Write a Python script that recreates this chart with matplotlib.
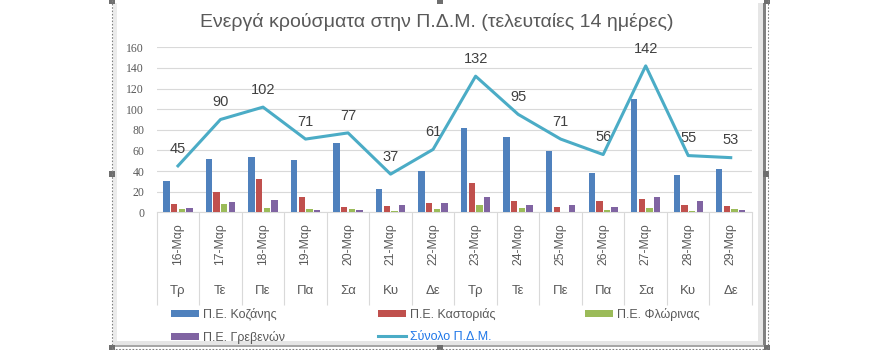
import matplotlib
matplotlib.use("Agg")
import matplotlib.pyplot as plt
from matplotlib.patches import Rectangle
from matplotlib.lines import Line2D
import matplotlib.transforms as mtransforms
import numpy as np

## chart data
dates = ["16-Μαρ", "17-Μαρ", "18-Μαρ", "19-Μαρ", "20-Μαρ", "21-Μαρ", "22-Μαρ",
         "23-Μαρ", "24-Μαρ", "25-Μαρ", "26-Μαρ", "27-Μαρ", "28-Μαρ", "29-Μαρ"]
days = ["Τρ", "Τε", "Πε", "Πα", "Σα", "Κυ", "Δε",
        "Τρ", "Τε", "Πε", "Πα", "Σα", "Κυ", "Δε"]
kozani = [30, 52, 54, 51, 67, 23, 40, 82, 73, 59, 38, 110, 36, 42]
kastoria = [8, 20, 32, 15, 5, 6, 9, 28, 11, 5, 11, 13, 7, 6]
florina = [3, 8, 4, 3, 3, 1, 3, 7, 4, 0, 2, 4, 1, 3]
grevena = [4, 10, 12, 2, 2, 7, 9, 15, 7, 7, 5, 15, 11, 2]
total = [45, 90, 102, 71, 77, 37, 61, 132, 95, 71, 56, 142, 55, 53]

series_names = ["Π.Ε. Κοζάνης", "Π.Ε. Καστοριάς", "Π.Ε. Φλώρινας", "Π.Ε. Γρεβενών"]
total_name = "Σύνολο Π.Δ.Μ."
title = "Ενεργά κρούσματα στην Π.Δ.Μ. (τελευταίες 14 ημέρες)"

W, H = 880, 350
TXT = "#595959"
GRID = "#d9d9d9"

def fx(x):
    return x / W

def fy(y):
    return 1 - y / H

fig = plt.figure(figsize=(8.8, 3.5), dpi=100)
ax = fig.add_axes([fx(156.7), fy(212.3), fx(752) - fx(156.7), fy(47.3) - fy(212.3)])

x = np.arange(len(dates))
colors = ["#4F81BD", "#C0504D", "#9BBB59", "#8064A2"]
offsets = [-0.27, -0.09, 0.09, 0.27]
bars = []
for vals, off, c, name in zip([kozani, kastoria, florina, grevena], offsets, colors, series_names):
    bars.append(ax.bar(x + off, vals, width=0.15, color=c, label=name, zorder=3))

line, = ax.plot(x, total, color="#4BACC6", lw=2.2, zorder=4, label=total_name)
for xi, v in zip(x, total):
    ax.annotate(str(v), (xi, v), xytext=(0, 12.5), textcoords="offset points",
                ha="center", va="center", fontsize=10.5, color="#404040",
                family="Liberation Sans")

ax.set_xlim(-0.5, len(dates) - 0.5)
ax.set_ylim(0, 160)
ax.set_yticks(range(0, 161, 20))
ax.grid(axis="y", color=GRID, lw=0.8, zorder=0)
for s in ["left", "right", "top"]:
    ax.spines[s].set_visible(False)
ax.spines["bottom"].set_color(GRID)
ax.tick_params(axis="y", length=0, pad=9, labelsize=8.5, labelcolor=TXT)
for t in ax.get_yticklabels():
    t.set_family("Liberation Serif")

ax.set_xticks(x)
ax.set_xticklabels(dates, rotation=90, fontsize=8.8, color=TXT, family="Liberation Sans")
ax.tick_params(axis="x", which="major", length=0, pad=7.7)
ax.set_xticks(np.arange(-0.5, len(dates), 1), minor=True)
ax.tick_params(axis="x", which="minor", length=66.7, color=GRID, width=0.8)

trans = mtransforms.blended_transform_factory(ax.transData, ax.transAxes)
for xi, d in zip(x, days):
    ax.text(xi, -0.475, d, transform=trans, ha="center", va="center",
            fontsize=9.5, color=TXT, family="Liberation Sans")

fig.text(fx(437), fy(22), title, ha="center", va="center", fontsize=14,
         color=TXT, family="Liberation Sans")

# legend, three columns placed like the original
leg_kw = dict(frameon=False, handlelength=2.2, handleheight=0.45,
              handletextpad=0.35, labelspacing=0.8, borderpad=0, labelcolor=TXT,
              prop={"family": "Liberation Sans", "size": 9})
l1 = fig.legend([bars[0], bars[3]], [series_names[0], series_names[3]],
                loc="upper left", bbox_to_anchor=(fx(165), fy(302)), **leg_kw)
l2 = fig.legend([bars[1], line], [series_names[1], total_name],
                loc="upper left", bbox_to_anchor=(fx(372), fy(302)), **leg_kw)
l2.get_texts()[1].set_color("#1F77E8")
l3 = fig.legend([bars[2]], [series_names[2]],
                loc="upper left", bbox_to_anchor=(fx(579), fy(302)), **leg_kw)

# chart frame (selection border with shadow and handles)
def rect(x0, y0, x1, y1, c):
    fig.patches.append(Rectangle((fx(x0), fy(y1)), fx(x1) - fx(x0), fy(y0) - fy(y1),
                                 transform=fig.transFigure, color=c, lw=0, zorder=0))

rect(113, 3, 117, 345, "#ebebeb")
rect(758, 3, 763, 345, "#e6e6e6")
rect(763, 3, 766, 347, "#808080")
rect(113, 341, 763, 345, "#e6e6e6")
rect(113, 345, 766, 347, "#a6a6a6")
for xs, ys in [([112, 112], [0, 350]), ([767.5, 767.5], [0, 350]), ([112, 767.5], [348.5, 348.5])]:
    fig.lines.append(Line2D([fx(v) for v in xs], [fy(v) for v in ys], transform=fig.transFigure,
                            color="#808080", lw=0.8, ls=(0, (1.5, 1.5))))
for hx in [112, 440, 767]:
    for hy in [1, 348]:
        rect(hx - 3, hy - 3, hx + 3, hy + 3, "#6e6e6e")
for hx in [112, 766]:
    rect(hx - 3, 171, hx + 3, 177, "#6e6e6e")

fig.savefig("out.png", dpi=100)
